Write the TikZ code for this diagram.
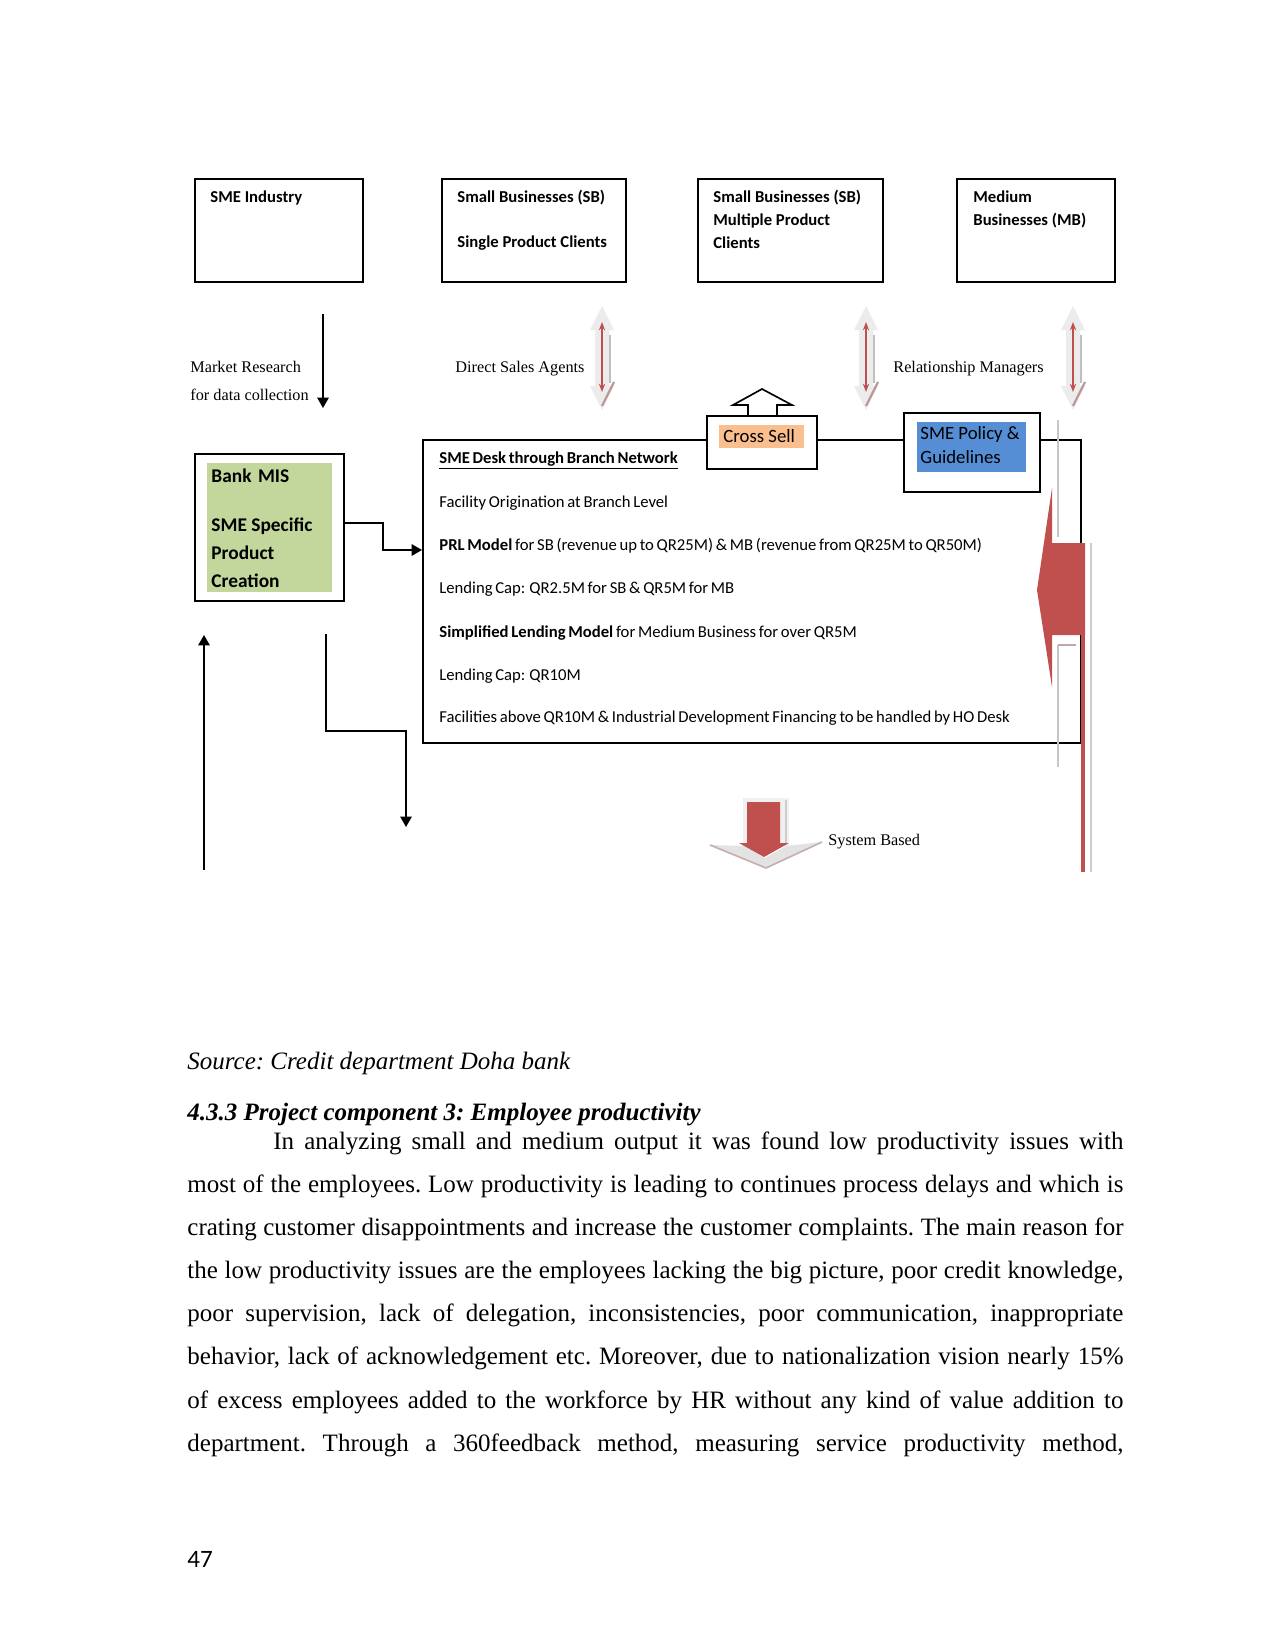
\documentclass[tikz,border=0pt]{standalone}
\usepackage{fontspec}
\setmainfont{Liberation Serif}
\newfontfamily\calfont{Carlito}
\usetikzlibrary{arrows.meta,fit}
\definecolor{crossor}{RGB}{250,191,143}
\definecolor{polblue}{RGB}{85,142,213}
\definecolor{misgreen}{RGB}{195,214,155}
\definecolor{arrred}{RGB}{192,80,77}
\definecolor{shadegray}{RGB}{236,236,236}
\newcommand{\tightsp}{\spaceskip=1.3pt plus 0.3pt minus 0.2pt\relax}
\newcommand{\dblarr}[1]{%
  \fill[shadegray] ({#1},306) -- ({#1+12},330) -- ({#1+7},330) -- ({#1+7},386) -- ({#1+12},386) -- ({#1},410) -- ({#1-12},386) -- ({#1-7},386) -- ({#1-7},330) -- ({#1-12},330) -- cycle;
  \draw[arrred,line width=0.6pt,{Stealth[length=4pt,width=3pt]}-{Stealth[length=4pt,width=3pt]}] ({#1},322) -- ({#1},392);
  \draw[gray!50,line width=0.6pt] ({#1+8},335) -- ({#1+8},383);
  \draw[arrred!50!gray!70,line width=1pt] ({#1+12},382) -- ({#1},406);
}
\begin{document}
\begin{tikzpicture}[x=0.48pt,y=-0.48pt,
  box/.style={draw,line width=0.9pt,inner sep=0pt},
  fillbox/.style={inner sep=0pt,draw=none},
  btxt/.style={anchor=base west,inner sep=0pt,font=\calfont\bfseries\fontsize{8}{9.6}\selectfont},
  dtxt/.style={anchor=base west,inner sep=0pt,font=\calfont\fontsize{8}{9.6}\selectfont\tightsp},
  ctxt/.style={anchor=base west,inner sep=0pt,font=\calfont\fontsize{9}{11}\selectfont},
  mtxt/.style={anchor=base west,inner sep=0pt,font=\calfont\bfseries\fontsize{9.3}{11}\selectfont},
  stxt/.style={anchor=base west,inner sep=0pt,font=\fontsize{7.8}{9.4}\selectfont},
  ptxt/.style={anchor=base west,inner sep=0pt,font=\fontsize{12}{14}\selectfont\frenchspacing},
  conn/.style={line width=0.8pt,-{Triangle[width=5.5pt,length=5pt]}},
  ]
\fill[white] (0,0) rectangle (1275,1651);
\useasboundingbox (0,0) rectangle (1275,1651);

% top boxes
\node[box,fit={(195,179) (363,282)}] (ind) {};
\node[box,fit={(442,179) (626,282)}] (sbs) {};
\node[box,fit={(698,179) (883,282)}] (sbm) {};
\node[box,fit={(957,179) (1115,282)}] (mb) {};
\node[btxt] (t1) at (210,203) {SME Industry};
\node[btxt] (t2) at (457,203) {Small Businesses (SB)};
\node[btxt] (t3) at (457,247) {Single Product Clients};
\node[btxt] (t4) at (713,203) {Small Businesses (SB)};
\node[btxt] (t5) at (713,226) {Multiple Product};
\node[btxt] (t6) at (713,249) {Clients};
\node[btxt] (t7) at (973,203) {Medium};
\node[btxt] (t8) at (973,226) {Businesses (MB)};

% labels of the middle row
\node[stxt] (l1) at (190,372) {Market Research};
\node[stxt] (l2) at (190,400) {for data collection};
\node[stxt] (l3) at (455,372) {Direct Sales Agents};
\node[stxt] (l4) at (893,372) {Relationship Managers};
\coordinate (mr1) at (323,314);
\coordinate (mr2) at (323,408);
\draw[conn] (mr1) -- (mr2);
\dblarr{602}
\dblarr{866}
\dblarr{1073}

% main desk box
\node[box,fit={(423,440) (1081,743)}] (desk) {};
\node[dtxt] (d1) at (439,463) {\textbf{\underline{SME Desk through Branch Network}}};
\node[dtxt] (d2) at (439,507) {Facility Origination at Branch Level};
\node[dtxt] (d3) at (439,550) {\textbf{PRL Model} for SB (revenue up to QR25M) \& MB (revenue from QR25M to QR50M)};
\node[dtxt] (d4) at (439,593) {Lending Cap: QR2.5M for SB \& QR5M for MB};
\node[dtxt] (d5) at (439,637) {\textbf{Simplified Lending Model} for Medium Business for over QR5M};
\node[dtxt] (d6) at (439,680) {Lending Cap: QR10M};
\node[dtxt] (d7) at (439,722) {Facilities above QR10M \& Industrial Development Financing to be handled by HO Desk};

% cross sell
\draw[line width=0.8pt,fill=white] (748,417) -- (748,405) -- (733,405) -- (762,389) -- (792,405) -- (777,405) -- (777,417);
\node[box,fill=white,fit={(707,416) (817,469)}] (cross) {};
\node[fillbox,fill=crossor,fit={(719,425) (804,448)}] (crossf) {};
\node[ctxt] (ct) at (723,442) {Cross Sell};

% policy
\node[box,fill=white,fit={(904,413) (1040,492)}] (pol) {};
\node[fillbox,fill=polblue,fit={(917,422) (1026,472)}] (polf) {};
\node[ctxt] (p1) at (920,439) {SME Policy \&};
\node[ctxt] (p2) at (920,463) {Guidelines};

% bank MIS
\node[box,fit={(195,454) (344,601)}] (mis) {};
\node[fillbox,fill=misgreen,fit={(207,463) (332,592)}] (misf) {};
\node[mtxt] (m1) at (211,482) {Bank\,\,MIS};
\node[mtxt] (m2) at (211,531) {SME Specific};
\node[mtxt] (m3) at (211,559) {Product};
\node[mtxt] (m4) at (211,587) {Creation};
\draw[conn] (mis.east |- 0,523) -- (383,523) |- (desk.west |- 0,550);

% lower left arrows
\coordinate (ua1) at (204,870);
\coordinate (ua2) at (204,635);
\draw[conn] (ua1) -- (ua2);
\coordinate (el1) at (326,634);
\coordinate (el2) at (406,827);
\draw[conn] (el1) |- (406,731) -- (el2);

% big red arrow at right
\draw[gray!45,line width=1pt] (1058,420) -- (1058,537);
\fill[arrred] (1037,590) -- (1052,488) -- (1052,543) -- (1085,543) -- (1085,635) -- (1052,635) -- (1052,687) -- cycle;
\fill[arrred] (1081,635) rectangle (1085,872);
\draw[gray!40,line width=0.8pt] (1091,543) -- (1091,872);
\draw[gray!45,line width=1pt] (1058,645) -- (1058,767);
\draw[arrred!40!gray!60,line width=1pt] (1058,645) -- (1076,645);

% system based arrow
\fill[gray!12] (743,798) rectangle (789,846);
\fill[gray!22] (710,845) -- (745,846) -- (765,858) -- (786,846) -- (822,842) -- (766,868) -- cycle;
\draw[arrred!35!gray!55,line width=0.8pt] (710,845) -- (766,868) -- (822,842);
\fill[arrred] (747,802) -- (780,802) -- (780,843) -- (789,843) -- (764,857) -- (739,843) -- (747,843) -- cycle;
\draw[gray!40,line width=1pt] (786,800) -- (786,843);
\node[stxt] (sys) at (828,845) {System Based};

% page text
\node[ptxt] (src) at (187,1069) {\itshape Source: Credit department Doha bank};
\node[ptxt] (hd) at (187,1120) {\bfseries\itshape 4.3.3 Project component 3: Employee productivity};
\node[ptxt] (b1) at (273,1149) {\makebox[408pt][s]{In analyzing small and medium output it was found low productivity issues with}};
\node[ptxt] (b2) at (187,1192) {\makebox[449.3pt][s]{most of the employees. Low productivity is leading to continues process delays and which is}};
\node[ptxt] (b3) at (187,1235) {\makebox[449.3pt][s]{crating customer disappointments and increase the customer complaints. The main reason for}};
\node[ptxt] (b4) at (187,1278) {\makebox[449.3pt][s]{the low productivity issues are the employees lacking the big picture, poor credit knowledge,}};
\node[ptxt] (b5) at (187,1321) {\makebox[449.3pt][s]{poor supervision, lack of delegation, inconsistencies, poor communication, inappropriate}};
\node[ptxt] (b6) at (187,1364) {\makebox[449.3pt][s]{behavior, lack of acknowledgement etc. Moreover, due to nationalization vision nearly 15\%}};
\node[ptxt] (b7) at (187,1408) {\makebox[449.3pt][s]{of excess employees added to the workforce by HR without any kind of value addition to}};
\node[ptxt] (b8) at (187,1451) {\makebox[449.3pt][s]{department. Through a 360feedback method, measuring service productivity method,}};
\node[anchor=base west,inner sep=0pt,font=\calfont\fontsize{12}{14}\selectfont] (pg) at (187,1567) {47};
\end{tikzpicture}
\end{document}
